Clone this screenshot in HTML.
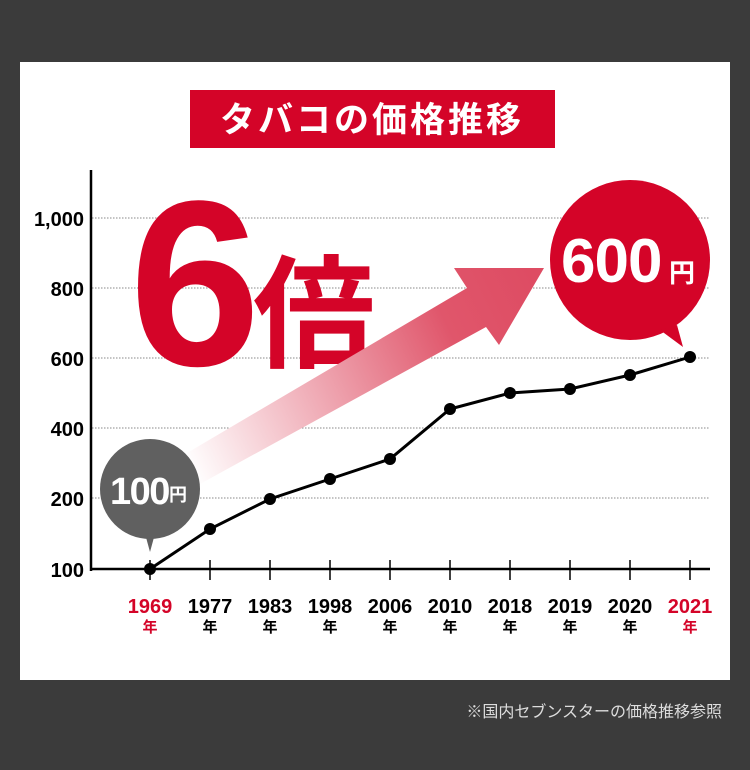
<!DOCTYPE html><html><head><meta charset="utf-8"><style>
body{margin:0;width:750px;height:770px;background:#3b3b3b;overflow:hidden;font-family:"Liberation Sans","Noto Sans CJK JP",sans-serif}
</style></head><body>
<svg width="750" height="770" viewBox="0 0 750 770" xmlns="http://www.w3.org/2000/svg" style="position:absolute;left:0;top:0">
<defs><linearGradient id="g" x1="190" y1="470" x2="544" y2="300" gradientUnits="userSpaceOnUse">
<stop offset="0" stop-color="#fff"/><stop offset="0.75" stop-color="#e0566b"/><stop offset="1" stop-color="#de4c63"/></linearGradient></defs>
<rect x="20" y="62" width="710" height="618" fill="#fff"/>
<rect x="190" y="90" width="365" height="58" fill="#d40428"/>
<text x="372" y="132" font-size="35" font-weight="bold" fill="#fff" text-anchor="middle" letter-spacing="3">タバコの価格推移</text>
<g stroke="#888" stroke-dasharray="1.5,1.5" stroke-width="1">
<line x1="92" y1="218" x2="710" y2="218"/><line x1="92" y1="288" x2="710" y2="288"/><line x1="92" y1="358" x2="710" y2="358"/><line x1="92" y1="428" x2="710" y2="428"/><line x1="92" y1="498" x2="710" y2="498"/></g>
<text x="195" y="365" font-size="236" font-weight="bold" fill="#d40428" text-anchor="middle">6</text>
<text x="314" y="358" font-size="122" font-weight="bold" fill="#d40428" text-anchor="middle">倍</text>
<polygon points="187,453 467,288 454,268 544,268 499,345 486,327 200,484" fill="url(#g)"/>
<line x1="91" y1="170" x2="91" y2="571" stroke="#000" stroke-width="2.5"/>
<line x1="90" y1="569" x2="710" y2="569" stroke="#000" stroke-width="2.5"/>
<g stroke="#000" stroke-width="1.5">
<line x1="150" y1="560" x2="150" y2="580"/><line x1="210" y1="560" x2="210" y2="580"/><line x1="270" y1="560" x2="270" y2="580"/><line x1="330" y1="560" x2="330" y2="580"/><line x1="390" y1="560" x2="390" y2="580"/><line x1="450" y1="560" x2="450" y2="580"/><line x1="510" y1="560" x2="510" y2="580"/><line x1="570" y1="560" x2="570" y2="580"/><line x1="630" y1="560" x2="630" y2="580"/><line x1="690" y1="560" x2="690" y2="580"/></g>
<g font-size="20" font-weight="bold" text-anchor="end" fill="#000">
<text x="84" y="226">1,000</text><text x="84" y="296">800</text><text x="84" y="366">600</text><text x="84" y="436">400</text><text x="84" y="506">200</text><text x="84" y="577">100</text></g>
<polyline points="150,569 210,529 270,499 330,479 390,459 450,409 510,393 570,389 630,375 690,357" fill="none" stroke="#000" stroke-width="3"/>
<g fill="#000"><circle cx="150" cy="569" r="6"/><circle cx="210" cy="529" r="6"/><circle cx="270" cy="499" r="6"/><circle cx="330" cy="479" r="6"/><circle cx="390" cy="459" r="6"/><circle cx="450" cy="409" r="6"/><circle cx="510" cy="393" r="6"/><circle cx="570" cy="389" r="6"/><circle cx="630" cy="375" r="6"/><circle cx="690" cy="357" r="6"/></g>
<circle cx="150" cy="489" r="50" fill="#606060"/><polygon points="144,530 156,530 150,552" fill="#606060"/>
<text x="110" y="504" font-size="38" font-weight="bold" fill="#fff" letter-spacing="-1.5">100</text><text x="169" y="501" font-size="18" font-weight="bold" fill="#fff">円</text>
<circle cx="630" cy="260" r="80" fill="#d40428"/><polygon points="660,330 677,325 683,347" fill="#d40428"/>
<text x="561" y="282" font-size="62" font-weight="bold" fill="#fff" letter-spacing="-1">600</text><text x="669" y="282" font-size="26" font-weight="bold" fill="#fff">円</text>
<g font-size="20" font-weight="bold" text-anchor="middle" fill="#000">
<text x="150" y="613" fill="#d40428">1969</text><text x="210" y="613">1977</text><text x="270" y="613">1983</text><text x="330" y="613">1998</text><text x="390" y="613">2006</text><text x="450" y="613">2010</text><text x="510" y="613">2018</text><text x="570" y="613">2019</text><text x="630" y="613">2020</text><text x="690" y="613" fill="#d40428">2021</text></g>
<g font-size="15" font-weight="bold" text-anchor="middle" fill="#000">
<text x="150" y="632" fill="#d40428">年</text><text x="210" y="632">年</text><text x="270" y="632">年</text><text x="330" y="632">年</text><text x="390" y="632">年</text><text x="450" y="632">年</text><text x="510" y="632">年</text><text x="570" y="632">年</text><text x="630" y="632">年</text><text x="690" y="632" fill="#d40428">年</text></g>
<text x="722" y="717" font-size="16" fill="#ddd" text-anchor="end">※国内セブンスターの価格推移参照</text>
</svg>
</body></html>
